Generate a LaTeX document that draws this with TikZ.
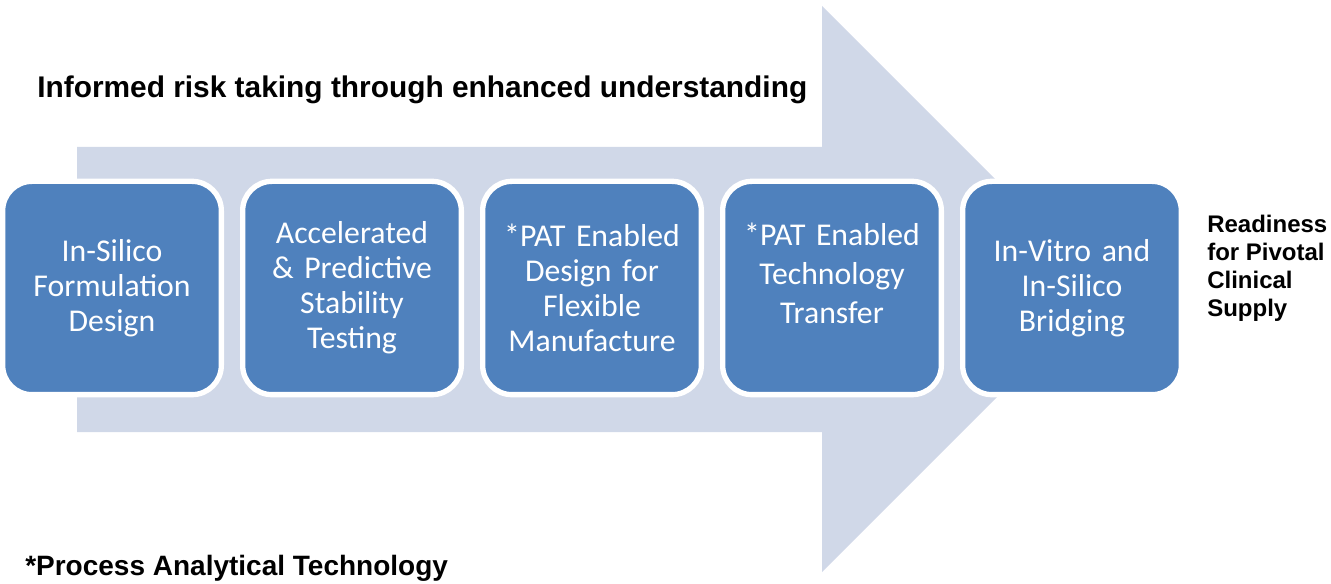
\documentclass[tikz,border=0pt]{standalone}
\usepackage{fontspec}
\setmainfont{Carlito}
\newfontfamily\headfont{Liberation Sans}
\usetikzlibrary{positioning}

\begin{document}
\begin{tikzpicture}[
    x=0.75pt, y=-0.75pt, % one unit per pixel, y running downwards
    node distance=12pt,
    stage/.style={rectangle, rounded corners=22pt, fill=stage_color, draw=white,
        line width=4pt, minimum width=164pt, minimum height=160pt,
        text width=156pt, align=center, text=white,
        font=\fontsize{23.8}{26.3}\selectfont},
    heading/.style={font=\headfont\bfseries\fontsize{22.4}{26}\selectfont,
        anchor=base west, inner sep=0pt}
]

% --- 1. SETTINGS & COLORS ---
\definecolor{stage_color}{HTML}{4F81BD}
\definecolor{arrow_color}{HTML}{D0D8E8}

\useasboundingbox (0,0) rectangle (1331,584);

% --- 2. BACKGROUND ARROW (drawn first so the boxes sit on top) ---
\fill[arrow_color] (77,147) -- (822,147) -- (822,6) -- (1105,289)
    -- (822,572) -- (822,432) -- (77,432) -- cycle;

% --- 3. STAGES ---
\node[stage] (formulation) at (112,288) {In-Silico\\Formulation\\Design};
\node[stage, right=of formulation] (stability) {Accelerated\\\& Predictive\\Stability\\Testing};
\node[stage, right=of stability] (manufacture) {*PAT Enabled\\Design for\\Flexible\\Manufacture};
% a touch more leading here, text sits a little high
\node[stage, right=of manufacture, font=\fontsize{23.8}{29.6}\selectfont] (transfer)
    {*PAT Enabled\\Technology\\Transfer\par\vspace{22pt}};
\node[stage, right=of transfer] (bridging) {In-Vitro and\\In-Silico\\Bridging};

% --- 4. LABELS ---
\node[heading] (title) at (37,98) {Informed risk taking through enhanced understanding};
\node[heading, anchor=west, align=left, font=\headfont\bfseries\fontsize{18}{21}\selectfont]
    (readiness) at (1207,268) {Readiness\\for Pivotal\\Clinical\\Supply};
\node[heading, font=\headfont\bfseries\fontsize{21}{25}\selectfont] (footnote) at (25,575)
    {*Process Analytical Technology};

\end{tikzpicture}
\end{document}
